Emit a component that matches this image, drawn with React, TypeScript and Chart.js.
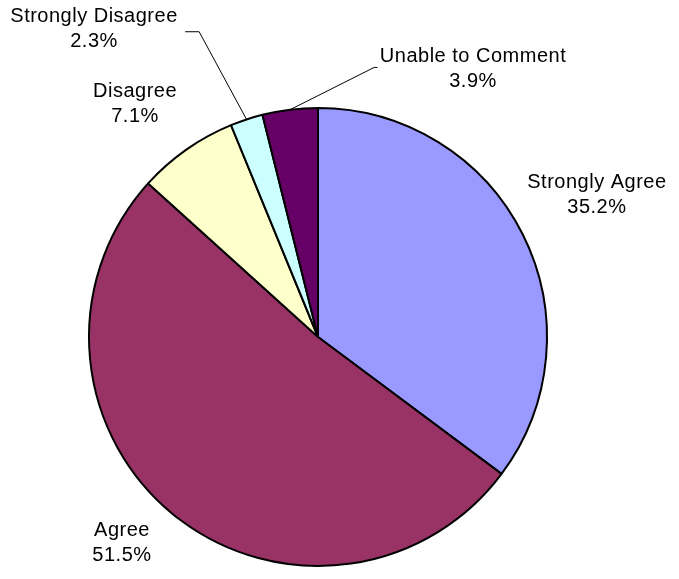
import React, { useEffect, useRef } from "react";
import { Chart, registerables } from "chart.js";

Chart.register(...registerables);

const categories = ["Strongly Agree", "Agree", "Disagree", "Strongly Disagree", "Unable to Comment"];
const values = [35.2, 51.5, 7.1, 2.3, 3.9];
const colors = ["#9999FF", "#993366", "#FFFFCC", "#CCFFFF", "#660066"];
// label anchor offsets relative to the pie centre, in units of radius
const labelOffsets = [
  [1.218, -0.62],
  [-0.856, 0.9],
  [-0.799, -1.017],
  [-0.978, -1.345],
  [0.677, -1.17],
];
// leader line elbows (units of radius), null = no leader
const leaders: (number[][] | null)[] = [
  null,
  null,
  null,
  [[-0.519, -1.333], [-0.58, -1.333]],
  [[0.245, -1.177], [0.26, -1.177]],
];

const labelPlugin = {
  id: "pieLabels",
  afterDraw(chart: any) {
    const ctx = chart.ctx;
    const meta = chart.getDatasetMeta(0);
    ctx.save();
    meta.data.forEach((arc: any, i: number) => {
      const { x, y, outerRadius, startAngle, endAngle } = arc.getProps(
        ["x", "y", "outerRadius", "startAngle", "endAngle"],
        true
      );
      const r = outerRadius;
      const mid = (startAngle + endAngle) / 2;
      const ld = leaders[i];
      if (ld) {
        ctx.strokeStyle = "#000";
        ctx.lineWidth = 1;
        ctx.beginPath();
        ctx.moveTo(x + Math.cos(mid) * r, y + Math.sin(mid) * r);
        ld.forEach((p) => ctx.lineTo(x + p[0] * r, y + p[1] * r));
        ctx.stroke();
      }
      const lx = x + labelOffsets[i][0] * r;
      const ly = y + labelOffsets[i][1] * r;
      ctx.fillStyle = "#000";
      ctx.font = "20px 'Liberation Sans', Arial, sans-serif";
      try {
        (ctx as any).letterSpacing = "0.5px";
      } catch (e) {}
      ctx.textAlign = "center";
      ctx.textBaseline = "middle";
      ctx.fillText(categories[i], lx, ly - 12.5);
      ctx.fillText(values[i].toFixed(1) + "%", lx, ly + 12.5);
    });
    ctx.restore();
  },
};

export default function App() {
  const ref = useRef<HTMLCanvasElement>(null);
  useEffect(() => {
    document.body.style.margin = "0";
    const chart = new Chart(ref.current!, {
      type: "pie",
      data: {
        labels: categories,
        datasets: [
          {
            data: values,
            backgroundColor: colors,
            borderColor: "#000",
            borderWidth: 2,
          },
        ],
      },
      options: {
        responsive: false,
        animation: false,
        layout: { padding: { top: 107, bottom: 12, left: 88, right: 131 } },
        plugins: { legend: { display: false }, tooltip: { enabled: false } },
      },
      plugins: [labelPlugin],
    });
    return () => chart.destroy();
  }, []);
  return (
    <div style={{ width: 679, height: 579, background: "#fff" }}>
      <canvas ref={ref} width={679} height={579} />
    </div>
  );
}
